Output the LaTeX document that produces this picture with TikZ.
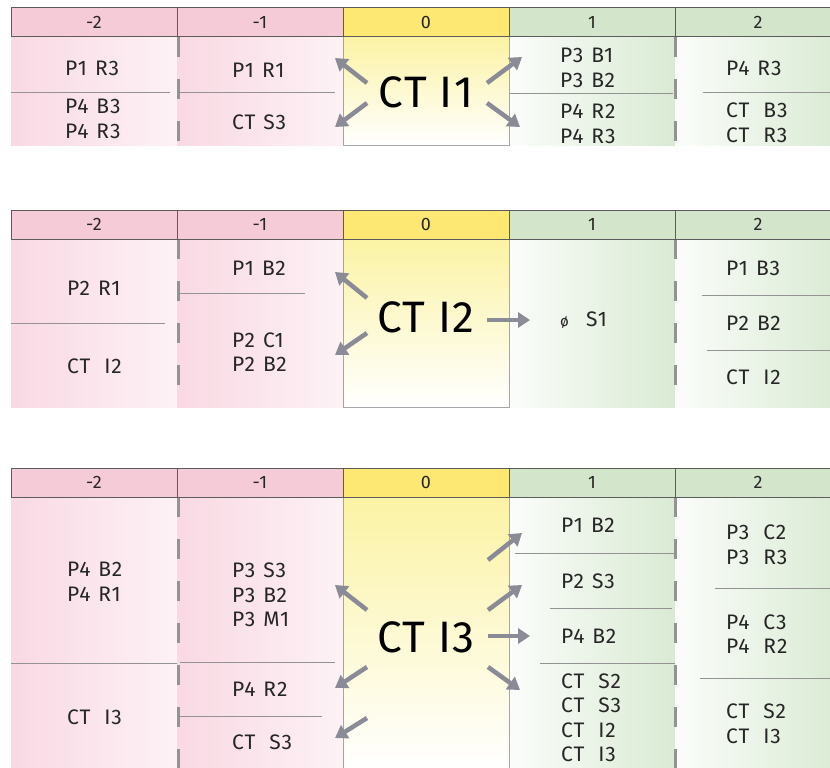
\documentclass[tikz,border=0pt]{standalone}
\usepackage{fontspec}
\setmainfont{Fira Sans}[LetterSpace=4,WordSpace=1.25]
\newfontfamily\bigfont{Fira Sans}[LetterSpace=3]
\usetikzlibrary{arrows.meta}
\definecolor{pinkhead}{HTML}{F5CBD8}
\definecolor{pinkbody}{HTML}{F9D9E3}
\definecolor{yellowhead}{HTML}{FCE872}
\definecolor{yellowbody}{HTML}{FBF3A4}
\definecolor{greenhead}{HTML}{D3E6CC}
\definecolor{greenbody}{HTML}{D9EAD3}
\definecolor{arrowgray}{HTML}{8B8A97}
\definecolor{linegray}{HTML}{5C5C5C}
\definecolor{inkgray}{HTML}{262626}
\newcommand\wgap{\kern6pt}

\begin{document}
\begin{tikzpicture}[x=1pt,y=-1pt,
  head/.style={draw=linegray,line width=1pt,minimum width=166pt,minimum height=29pt,
    outer sep=0pt,inner sep=0pt,text=inkgray,font=\fontsize{18}{20}\selectfont},
  cell/.style={anchor=west,align=left,inner sep=0pt,text=inkgray,font=\fontsize{21}{24.5}\selectfont},
  big/.style={inner sep=0pt,font=\bigfont\fontsize{44}{46}\selectfont},
  arr/.style={-{Triangle[length=12pt,width=15pt]},line width=4.5pt,arrowgray},
  rule/.style={draw=gray!85,line width=1pt},
  cut/.style={draw=gray!85,line width=3pt,dash pattern=on 20pt off 22pt}]
\useasboundingbox (0,0) rectangle (830,768);

\foreach \t/\b in {8/145,210/407,468/768}{
  \shade[left color=pinkbody,right color=pinkbody!35] (11,\t+29) rectangle (177,\b);
  \shade[left color=pinkbody,right color=pinkbody!35] (177,\t+29) rectangle (343,\b);
  \shade[top color=yellowbody,bottom color=white] (343,\t+29) rectangle (509,\b);
  \shade[left color=greenbody!10,right color=greenbody] (509,\t+29) rectangle (675,\b);
  \shade[left color=greenbody!10,right color=greenbody] (675,\t+29) rectangle (841,\b);
  \draw[gray!70,line width=0.8pt] (343,\t+29) -- (343,\b) -- (509,\b) -- (509,\t+29);
  \draw[cut] (178,\t+29) -- (178,\b) (675,\t+29) -- (675,\b);
  \node[head,fill=pinkhead] (h\t a) at (94,\t+14.5) {-2};
  \node[head,fill=pinkhead] (h\t b) at (260,\t+14.5) {-1};
  \node[head,fill=yellowhead] (h\t c) at (426,\t+14.5) {0};
  \node[head,fill=greenhead] (h\t d) at (592,\t+14.5) {1};
  \node[head,fill=greenhead] (h\t e) at (758,\t+14.5) {2};
}

\draw[rule] (11,92) -- (170,92) (180,92) -- (335,92) (510,93) -- (673,93) (703,92) -- (830,92);
\draw[rule] (11,323) -- (165,323) (180,293) -- (305,293) (702,295) -- (830,295) (707,350) -- (830,350);
\draw[rule] (11,663) -- (177,663) (180,662) -- (335,662) (180,716) -- (322,716)
  (515,553) -- (675,553) (550,608) -- (672,608) (540,663) -- (675,663)
  (715,588) -- (830,588) (700,678) -- (830,678);

\node[cell] (a1) at (65,68) {P1 R3};
\node[cell] (a2) at (65,119) {P4 B3\\P4 R3};
\node[cell] (b1) at (232,70) {P1 R1};
\node[cell] (b2) at (232,122) {CT S3};
\node[big] (ct1) at (426,92) {CT I1};
\node[cell] (d1) at (560,68) {P3 B1\\P3 B2};
\node[cell] (d2) at (560,124) {P4 R2\\P4 R3};
\node[cell] (e1) at (726,68) {P4 R3};
\node[cell] (e2) at (726,123) {CT\wgap{} B3\\CT\wgap{} R3};

\node[cell] (a3) at (67,288) {P2 R1};
\node[cell] (a4) at (67,366) {CT\wgap{} I2};
\node[cell] (b3) at (232,268) {P1 B2};
\node[cell] (b4) at (232,352) {P2 C1\\P2 B2};
\node[big] (ct2) at (426,317) {CT I2};
\node[cell] (d3) at (560,320) {\fontsize{15}{18}\selectfont ø\ \ \ \fontsize{21}{24.5}\selectfont S1};
\node[cell] (e3) at (726,268) {P1 B3};
\node[cell] (e4) at (726,323) {P2 B2};
\node[cell] (e5) at (726,377) {CT\wgap{} I2};

\node[cell] (a5) at (67,582) {P4 B2\\P4 R1};
\node[cell] (a6) at (67,717) {CT\wgap{} I3};
\node[cell] (b5) at (232,595) {P3 S3\\P3 B2\\P3 M1};
\node[cell] (b6) at (232,689) {P4 R2};
\node[cell] (b7) at (232,742) {CT\wgap{} S3};
\node[big] (ct3) at (426,637) {CT I3};
\node[cell] (d4) at (561,525) {P1 B2};
\node[cell] (d5) at (561,581) {P2 S3};
\node[cell] (d6) at (561,636) {P4 B2};
\node[cell] (d7) at (561,718) {CT\wgap{} S2\\CT\wgap{} S3\\CT\wgap{} I2\\CT\wgap{} I3};
\node[cell] (e6) at (726,545) {P3\wgap{} C2\\P3\wgap{} R3};
\node[cell] (e7) at (726,634) {P4\wgap{} C3\\P4\wgap{} R2};
\node[cell] (e8) at (726,724) {CT\wgap{} S2\\CT\wgap{} I3};

\coordinate (t1a) at (335,58);
\coordinate (t1b) at (335,127);
\coordinate (t1c) at (522,57);
\coordinate (t1d) at (520,127);
\coordinate (t2a) at (335,272);
\coordinate (t2b) at (335,355);
\coordinate (t2c) at (530,320);
\coordinate (t3a) at (335,585);
\coordinate (t3b) at (335,688);
\coordinate (t3c) at (335,738);
\coordinate (t3d) at (522,533);
\coordinate (t3e) at (522,585);
\coordinate (t3f) at (530,636);
\coordinate (t3g) at (520,690);

\path[arr] ([shift={(-59,-9)}]ct1.center) edge (t1a)
  ([shift={(-59,11)}]ct1.center) edge (t1b)
  ([shift={(61,-9)}]ct1.center) edge (t1c)
  ([shift={(61,11)}]ct1.center) edge (t1d);
\path[arr] ([shift={(-59,-19)}]ct2.center) edge (t2a)
  ([shift={(-59,16)}]ct2.center) edge (t2b)
  ([shift={(61,3)}]ct2.center) edge (t2c);
\path[arr] ([shift={(-59,-27)}]ct3.center) edge (t3a)
  ([shift={(-59,30)}]ct3.center) edge (t3b)
  ([shift={(-59,81)}]ct3.center) edge (t3c)
  ([shift={(62,-77)}]ct3.center) edge (t3d)
  ([shift={(62,-27)}]ct3.center) edge (t3e)
  ([shift={(62,-1)}]ct3.center) edge (t3f)
  ([shift={(62,30)}]ct3.center) edge (t3g);
\end{tikzpicture}
\end{document}
